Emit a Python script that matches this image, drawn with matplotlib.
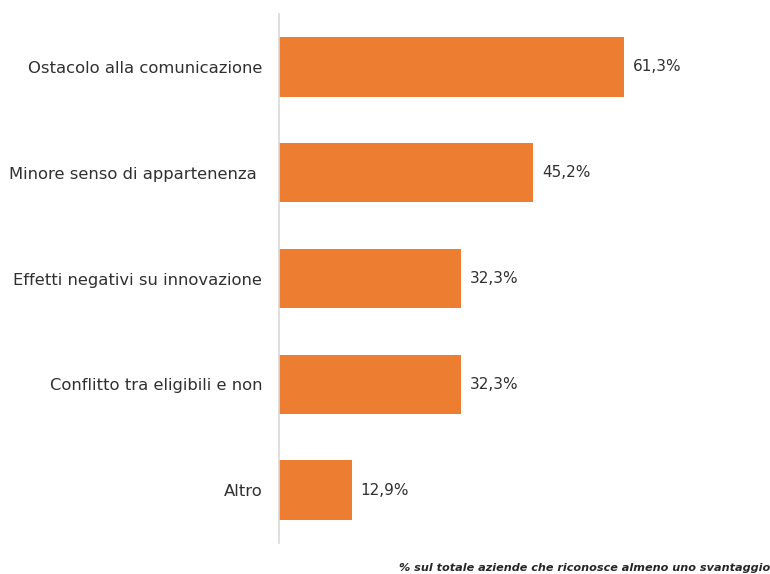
import matplotlib
matplotlib.use("Agg")
import matplotlib.pyplot as plt

categorie = ["Ostacolo alla comunicazione", "Minore senso di appartenenza ",
             "Effetti negativi su innovazione", "Conflitto tra eligibili e non", "Altro"]
valori = [61.3, 45.2, 32.3, 32.3, 12.9]
etichette = ["61,3%", "45,2%", "32,3%", "32,3%", "12,9%"]
nota = "% sul totale aziende che riconosce almeno uno svantaggio"

W, H = 770, 574
fig = plt.figure(figsize=(W / 100, H / 100), dpi=100)
# asse: da x=279 px, altezza 14..543 px
ax = fig.add_axes([279 / W, 1 - 543 / H, 440 / W, 529 / H])

pos = list(range(len(categorie)))
ax.barh(pos, valori, height=0.56, color="#ED7D31")
ax.set_ylim(len(categorie) - 0.5, -0.5)
ax.set_xlim(0, 440 / 5.63)

for p, v, t in zip(pos, valori, etichette):
    ax.text(v + 1.6, p, t, va="center", ha="left", fontsize=11, color="#303030")

ax.set_yticks(pos)
ax.set_yticklabels(categorie, fontsize=11.8, color="#303030")
ax.tick_params(axis="y", length=0, pad=12)
ax.set_xticks([])
for s in ["top", "right", "bottom"]:
    ax.spines[s].set_visible(False)
ax.spines["left"].set_color("#D9D9D9")
ax.spines["left"].set_linewidth(1.2)

fig.text(770 / W, 1 - 571 / H, nota, ha="right", va="baseline",
         fontsize=8.1, style="italic", weight="bold", color="#262626")

fig.savefig("out.png", dpi=100)
